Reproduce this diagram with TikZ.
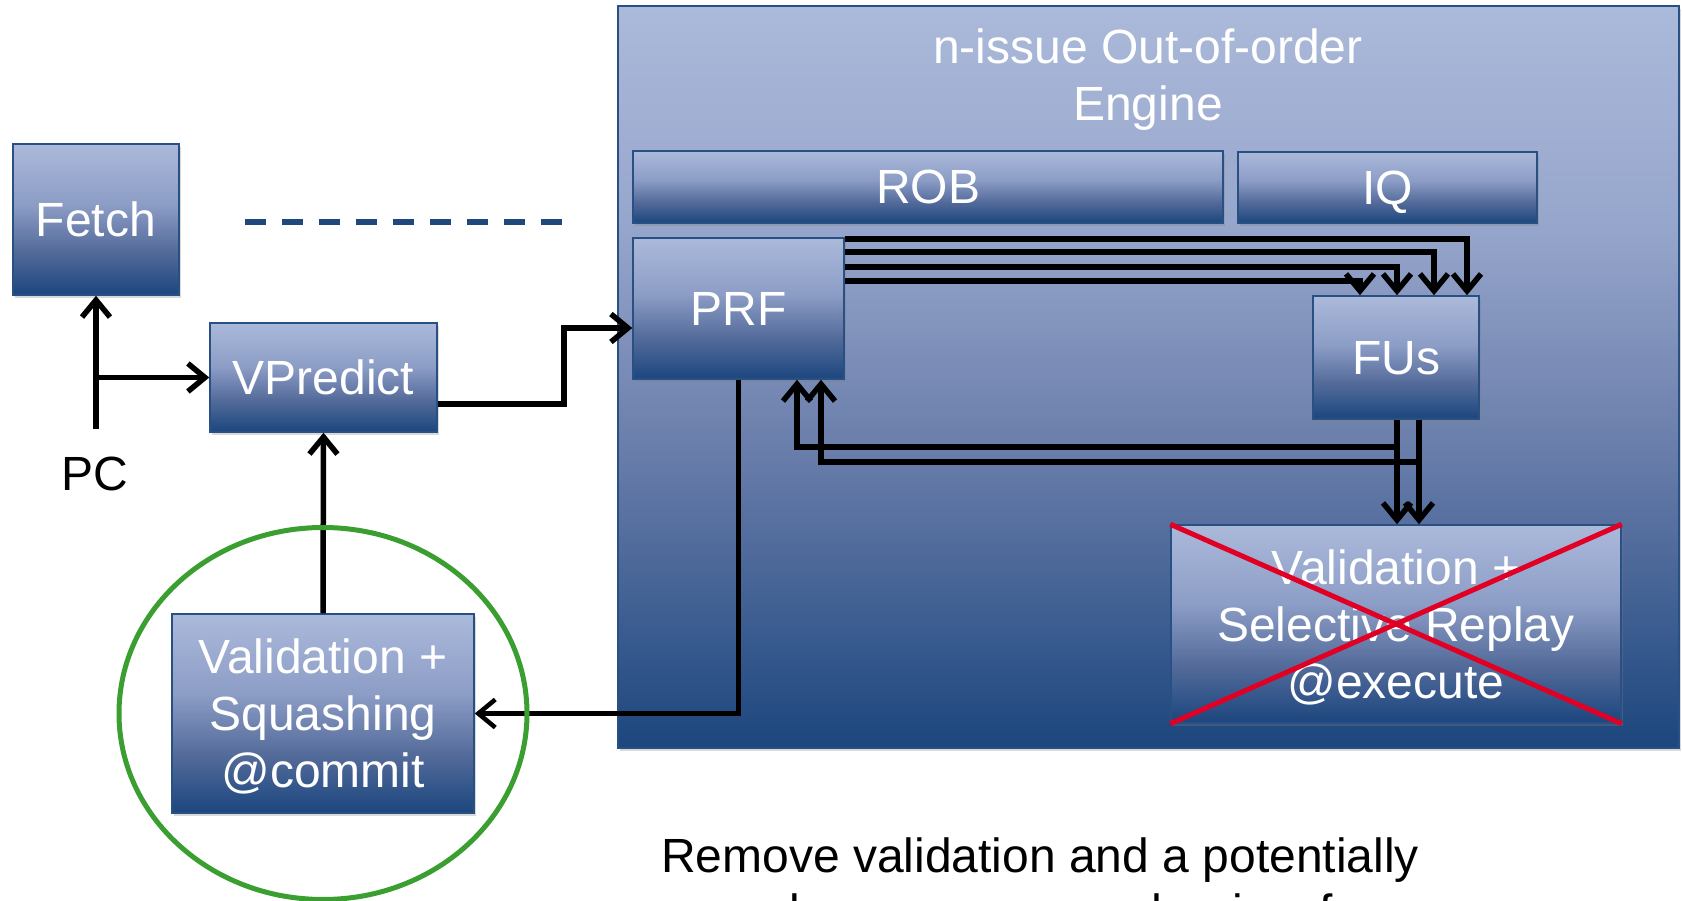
\documentclass[tikz,border=0pt]{standalone}
\usepackage{fontspec}
\setmainfont{Liberation Sans}
\usetikzlibrary{arrows.meta,shadows,calc}
\definecolor{bxA}{RGB}{171,185,218}
\definecolor{bxB}{RGB}{140,157,198}
\definecolor{bxC}{RGB}{85,108,155}
\definecolor{bxD}{RGB}{27,70,126}
\definecolor{enA}{RGB}{171,186,218}
\definecolor{enB}{RGB}{150,165,203}
\definecolor{enC}{RGB}{105,125,170}
\definecolor{enD}{RGB}{28,70,126}
\definecolor{edgeblue}{RGB}{40,80,130}
\definecolor{dashblue}{RGB}{31,73,125}
\definecolor{crossred}{RGB}{225,0,35}
\definecolor{ringgreen}{RGB}{58,158,48}
\pgfdeclareverticalshading{boxshade}{100bp}{color(0bp)=(bxD); color(25bp)=(bxD); color(40bp)=(bxC); color(55bp)=(bxB); color(75bp)=(bxA); color(100bp)=(bxA)}
\pgfdeclareverticalshading{engshade}{100bp}{color(0bp)=(enD); color(25bp)=(enD); color(45bp)=(enC); color(60bp)=(enB); color(75bp)=(enA); color(100bp)=(enA)}
\newcommand\bigfs{\fontsize{48}{57}\selectfont}
\tikzset{
  shad/.style={drop shadow={opacity=0.3, shadow xshift=2pt, shadow yshift=-3pt}},
  blk/.style={draw=edgeblue, line width=1.5pt, shading=boxshade, text=white, font=\bigfs, align=center, inner sep=0pt, text height=34pt, text depth=0pt, shad},
  threelines/.style={text height=148pt, text depth=0pt},
  twolines/.style={text height=91pt, text depth=0pt},
  engbox/.style={draw=edgeblue, line width=1.5pt, shading=engshade, inner sep=0pt, shad},
  lbl/.style={font=\bigfs, align=center, inner sep=0pt},
  ln/.style={line width=5.5pt, draw=black},
  arr/.style={ln, -{Straight Barb[length=17pt,width=28pt]}},
  thinarr/.style={line width=4.5pt, draw=black, -{Straight Barb[length=17pt,width=28pt]}},
  xline/.style={line width=5pt, draw=crossred},
}
\begin{document}
\begin{tikzpicture}[x=1pt,y=-1pt]
\useasboundingbox (0,0) rectangle (1682,901);
% engine
\node[engbox, minimum width=1061pt, minimum height=742pt] (eng) at (1148.5,377) {};
\node[lbl, text=white, twolines] (title) at (1148,75.5) {n-issue Out-of-order\\Engine};
\node[blk, minimum width=590pt, minimum height=72pt] (rob) at (928,187) {ROB};
\node[blk, minimum width=299pt, minimum height=71pt] (iq) at (1387.5,187.5) {IQ};
\node[blk, minimum width=211pt, minimum height=141pt] (prf) at (738.5,308.5) {PRF};
\node[blk, minimum width=166pt, minimum height=123pt] (fus) at (1396,357.5) {FUs};
\node[blk, threelines, minimum width=450pt, minimum height=198pt] (valsel) at (1396,624) {Validation +\\Selective Replay\\@execute};
% left side
\node[blk, minimum width=166pt, minimum height=151pt] (fetch) at (96,219.5) {Fetch};
\node[blk, minimum width=227pt, minimum height=109pt] (vpred) at (323.5,377.5) {VPredict};
\node[blk, threelines, minimum width=302pt, minimum height=199pt] (valsq) at (323,713.5) {Validation +\\Squashing\\@commit};
\node[lbl, text=black, text height=34pt, text depth=0pt] (pclabel) at (95,473) {PC};
\node[lbl, text=black, anchor=base] (note1) at (1040,872) {Remove validation and a potentially};
\node[lbl, text=black, anchor=base] (note2) at (1044,928) {complex recovery mechanism from};
% dashed line
\coordinate (d1) at (245,222);
\coordinate (d2) at (562,222);
\draw[line width=6pt, draw=dashblue, dash pattern=on 21pt off 16pt] (d1) -- (d2);
% PC connectors
\coordinate (pc) at (96,429);
\draw[arr] (pc) -- (fetch.south);
\draw[arr] (pc |- vpred.west) -- (vpred.west);
\draw[arr] (valsq.north) -- (vpred.south);
\draw[arr] ($(vpred.east)+(0,26.5)$) -- ++(126,0) |- ($(prf.west)+(0,19.5)$);
% PRF -> FUs
\draw[arr] ($(prf.east)+(0,-69.5)$) -| ($(fus.north)+(71,0)$);
\draw[arr] ($(prf.east)+(0,-56.5)$) -| ($(fus.north)+(38,0)$);
\draw[arr] ($(prf.east)+(0,-41.5)$) -| ($(fus.north)+(1,0)$);
\draw[arr] ($(prf.east)+(0,-27.5)$) -| ($(fus.north)+(-36,0)$);
% FUs -> validation
\draw[arr] ($(fus.south)+(1,0)$) -- ($(valsel.north)+(1,0)$);
\draw[arr] ($(fus.south)+(23,0)$) -- ($(valsel.north)+(23,0)$);
% feedback to PRF
\draw[arr] ($(fus.south)+(1,27)$) -| ($(prf.south)+(58.5,0)$);
\draw[arr] ($(fus.south)+(23,42)$) -| ($(prf.south)+(82.5,0)$);
% PRF -> commit validation
\draw[thinarr] (prf.south) |- (valsq.east);
% cross
\draw[xline] (valsel.north west) -- (valsel.south east);
\draw[xline] (valsel.south west) -- (valsel.north east);
% ring
\draw[line width=5pt, draw=ringgreen] (valsq.center) ellipse [x radius=204, y radius=186];
\end{tikzpicture}
\end{document}
